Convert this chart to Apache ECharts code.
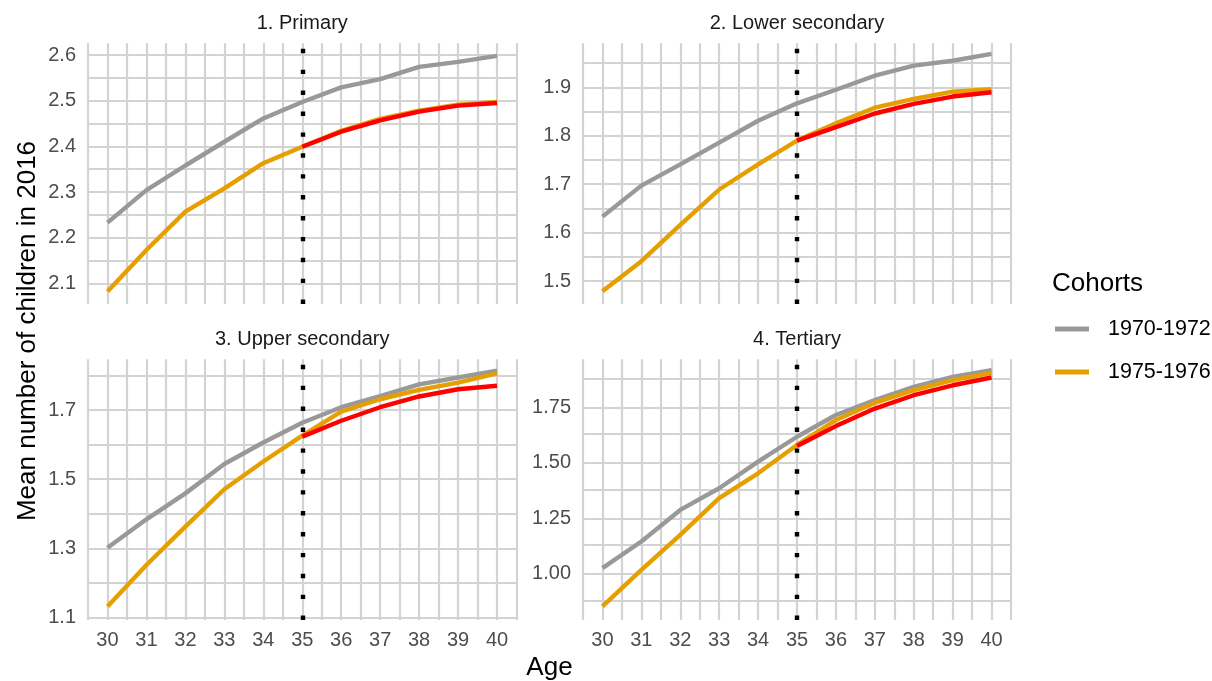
<!DOCTYPE html>
<html>
<head>
<meta charset="utf-8">
<script src="https://cdn.jsdelivr.net/npm/echarts@6/dist/echarts.min.js"></script>
<style>
  html, body { margin: 0; padding: 0; background: #ffffff; }
  #chart { width: 1212px; height: 681px; }
</style>
</head>
<body>
<div id="chart"></div>
<script>
// Ages on the x axis
const ages = [30, 31, 32, 33, 34, 35, 36, 37, 38, 39, 40];
const projectionAges = [35, 36, 37, 38, 39, 40];

// Facet titles
const panelTitles = ['1. Primary', '2. Lower secondary', '3. Upper secondary', '4. Tertiary'];

// Cohort names
const cohortNames = ['1970-1972', '1975-1976'];

// 1. Primary
const primary7072 = [2.233, 2.304, 2.358, 2.410, 2.461, 2.497, 2.529, 2.547, 2.574, 2.585, 2.598];
const primary7576 = [2.082, 2.173, 2.257, 2.308, 2.363, 2.399, 2.434, 2.460, 2.478, 2.491, 2.497];
const primaryProjected = [2.399, 2.432, 2.457, 2.476, 2.489, 2.495];

// 2. Lower secondary
const lower7072 = [1.633, 1.697, 1.741, 1.786, 1.831, 1.867, 1.895, 1.924, 1.945, 1.955, 1.969];
const lower7576 = [1.479, 1.541, 1.616, 1.689, 1.741, 1.790, 1.826, 1.858, 1.876, 1.891, 1.896];
const lowerProjected = [1.790, 1.818, 1.846, 1.866, 1.881, 1.890];

// 3. Upper secondary
const upper7072 = [1.302, 1.384, 1.459, 1.544, 1.606, 1.663, 1.708, 1.740, 1.774, 1.794, 1.814];
const upper7576 = [1.132, 1.252, 1.363, 1.471, 1.551, 1.626, 1.695, 1.731, 1.758, 1.779, 1.806];
const upperProjected = [1.623, 1.669, 1.708, 1.739, 1.760, 1.770];

// 4. Tertiary
const tertiary7072 = [1.026, 1.146, 1.288, 1.386, 1.506, 1.618, 1.716, 1.783, 1.843, 1.888, 1.918];
const tertiary7576 = [0.853, 1.018, 1.176, 1.341, 1.453, 1.581, 1.693, 1.771, 1.828, 1.873, 1.906];
const tertiaryProjected = [1.576, 1.666, 1.745, 1.805, 1.850, 1.885];

// Y tick labels (major breaks) and minor breaks per panel
const primaryTicks = [2.1, 2.2, 2.3, 2.4, 2.5, 2.6];
const primaryMinor = [2.15, 2.25, 2.35, 2.45, 2.55];
const lowerTicks = [1.5, 1.6, 1.7, 1.8, 1.9];
const lowerMinor = [1.55, 1.65, 1.75, 1.85, 1.95];
const upperTicks = [1.1, 1.3, 1.5, 1.7];
const upperMinor = [1.2, 1.4, 1.6, 1.8];
const tertiaryTicks = [1.00, 1.25, 1.50, 1.75];
const tertiaryMinor = [0.875, 1.125, 1.375, 1.625, 1.875];

// Age at which the projection starts
const projectionStart = 35;

const series7072 = [primary7072, lower7072, upper7072, tertiary7072];
const series7576 = [primary7576, lower7576, upper7576, tertiary7576];
const seriesProjected = [primaryProjected, lowerProjected, upperProjected, tertiaryProjected];
const majorBreaks = [primaryTicks, lowerTicks, upperTicks, tertiaryTicks];
const minorBreaks = [primaryMinor, lowerMinor, upperMinor, tertiaryMinor];

const FONT = '"Liberation Sans", Arial, Helvetica, sans-serif';
const GREY = '#999999';
const ORANGE = '#E69F00';
const RED = '#FF0000';
const GRID_COLOR = '#d3d3d3';
const GRID_WIDTH = 2.2;
const LINE_WIDTH = 4.4;

// Panel layout: plotting rectangles and y ranges
const layout = [
  { left: 88,  top: 43.3,  width: 428.5, height: 260.7, min: 2.0547, max: 2.6256, digits: 1, bottom: false },
  { left: 583, top: 43.3,  width: 428,   height: 260.7, min: 1.4525, max: 1.991,  digits: 1, bottom: false },
  { left: 88,  top: 359.3, width: 428.5, height: 260.7, min: 1.093,  max: 1.8465, digits: 1, bottom: true },
  { left: 583, top: 359.3, width: 428,   height: 260.7, min: 0.792,  max: 1.967,  digits: 2, bottom: true }
];

const pairs = (xs, ys) => xs.map((x, i) => [x, ys[i]]);

const grids = [], xAxes = [], yAxes = [], series = [], graphics = [];

layout.forEach((p, i) => {
  grids.push({ left: p.left, top: p.top, width: p.width, height: p.height, containLabel: false });

  xAxes.push({
    type: 'value', gridIndex: i, min: 29.5, max: 40.5, interval: 0.5,
    axisLine: { show: false }, axisTick: { show: false },
    axisLabel: {
      show: p.bottom, margin: 10, color: '#4d4d4d', fontSize: 20, fontFamily: FONT,
      formatter: v => (Number.isInteger(v) ? String(v) : '')
    },
    splitLine: { show: true, lineStyle: { color: GRID_COLOR, width: GRID_WIDTH } }
  });

  yAxes.push({
    type: 'value', gridIndex: i, min: p.min, max: p.max,
    axisLine: { show: false }, axisTick: { show: false },
    splitLine: { show: false },
    axisLabel: {
      customValues: majorBreaks[i], margin: 12, color: '#4d4d4d', fontSize: 20, fontFamily: FONT,
      formatter: v => Number(v).toFixed(p.digits)
    }
  });

  // Horizontal grid lines (major and minor breaks)
  const hLines = majorBreaks[i].concat(minorBreaks[i]).map(v => ({ yAxis: v }));
  series.push({
    type: 'line', name: 'grid' + i, xAxisIndex: i, yAxisIndex: i, data: [], silent: true, z: 1,
    markLine: {
      z: 1, silent: true, animation: false, symbol: ['none', 'none'],
      label: { show: false }, emphasis: { disabled: true },
      lineStyle: { color: GRID_COLOR, width: GRID_WIDTH, type: 'solid' },
      data: hLines
    }
  });

  series.push({
    type: 'line', name: cohortNames[0], xAxisIndex: i, yAxisIndex: i,
    data: pairs(ages, series7072[i]), showSymbol: false, symbol: 'none', color: GREY,
    lineStyle: { color: GREY, width: LINE_WIDTH }, z: 2, animation: false, emphasis: { disabled: true }
  });
  series.push({
    type: 'line', name: cohortNames[1], xAxisIndex: i, yAxisIndex: i,
    data: pairs(ages, series7576[i]), showSymbol: false, symbol: 'none', color: ORANGE,
    lineStyle: { color: ORANGE, width: LINE_WIDTH }, z: 3, animation: false, emphasis: { disabled: true }
  });
  series.push({
    type: 'line', name: 'Projection', xAxisIndex: i, yAxisIndex: i,
    data: pairs(projectionAges, seriesProjected[i]), showSymbol: false, symbol: 'none', color: RED,
    lineStyle: { color: RED, width: LINE_WIDTH }, z: 4, animation: false, emphasis: { disabled: true },
    markLine: {
      z: 10, silent: true, animation: false, symbol: ['none', 'none'],
      label: { show: false }, emphasis: { disabled: true },
      lineStyle: { color: '#000000', width: 4.4, type: [4.4, 16.5], cap: 'butt' },
      data: [{ xAxis: projectionStart }]
    }
  });

  graphics.push({
    type: 'text', x: p.left + p.width / 2, y: p.top - 19.5,
    style: { text: panelTitles[i], fill: '#1a1a1a', font: '20px ' + FONT, align: 'center', verticalAlign: 'middle' }
  });
});

// Axis titles and legend title
graphics.push({
  type: 'text', x: 549.5, y: 668,
  style: { text: 'Age', fill: '#000000', font: '26px ' + FONT, align: 'center', verticalAlign: 'middle' }
});
graphics.push({
  type: 'text', x: 28, y: 331, rotation: Math.PI / 2,
  style: { text: 'Mean number of children in 2016', fill: '#000000', font: '26px ' + FONT, align: 'center', verticalAlign: 'middle' }
});
graphics.push({
  type: 'text', x: 1052, y: 284,
  style: { text: 'Cohorts', fill: '#000000', font: '26px ' + FONT, align: 'left', verticalAlign: 'middle' }
});

const chart = echarts.init(document.getElementById('chart'), null, { renderer: 'canvas' });
chart.setOption({
  animation: false,
  backgroundColor: '#ffffff',
  grid: grids,
  xAxis: xAxes,
  yAxis: yAxes,
  series: series,
  graphic: graphics,
  legend: {
    data: cohortNames.map(n => ({ name: n, icon: 'rect' })),
    orient: 'vertical', left: 1055, top: 318, padding: 0, itemWidth: 34, itemHeight: 5, itemGap: 21,
    selectedMode: false,
    textStyle: { fontSize: 21.5, lineHeight: 22, color: '#000000', fontFamily: FONT, padding: [0, 0, 0, 14] }
  }
});
</script>
</body>
</html>
